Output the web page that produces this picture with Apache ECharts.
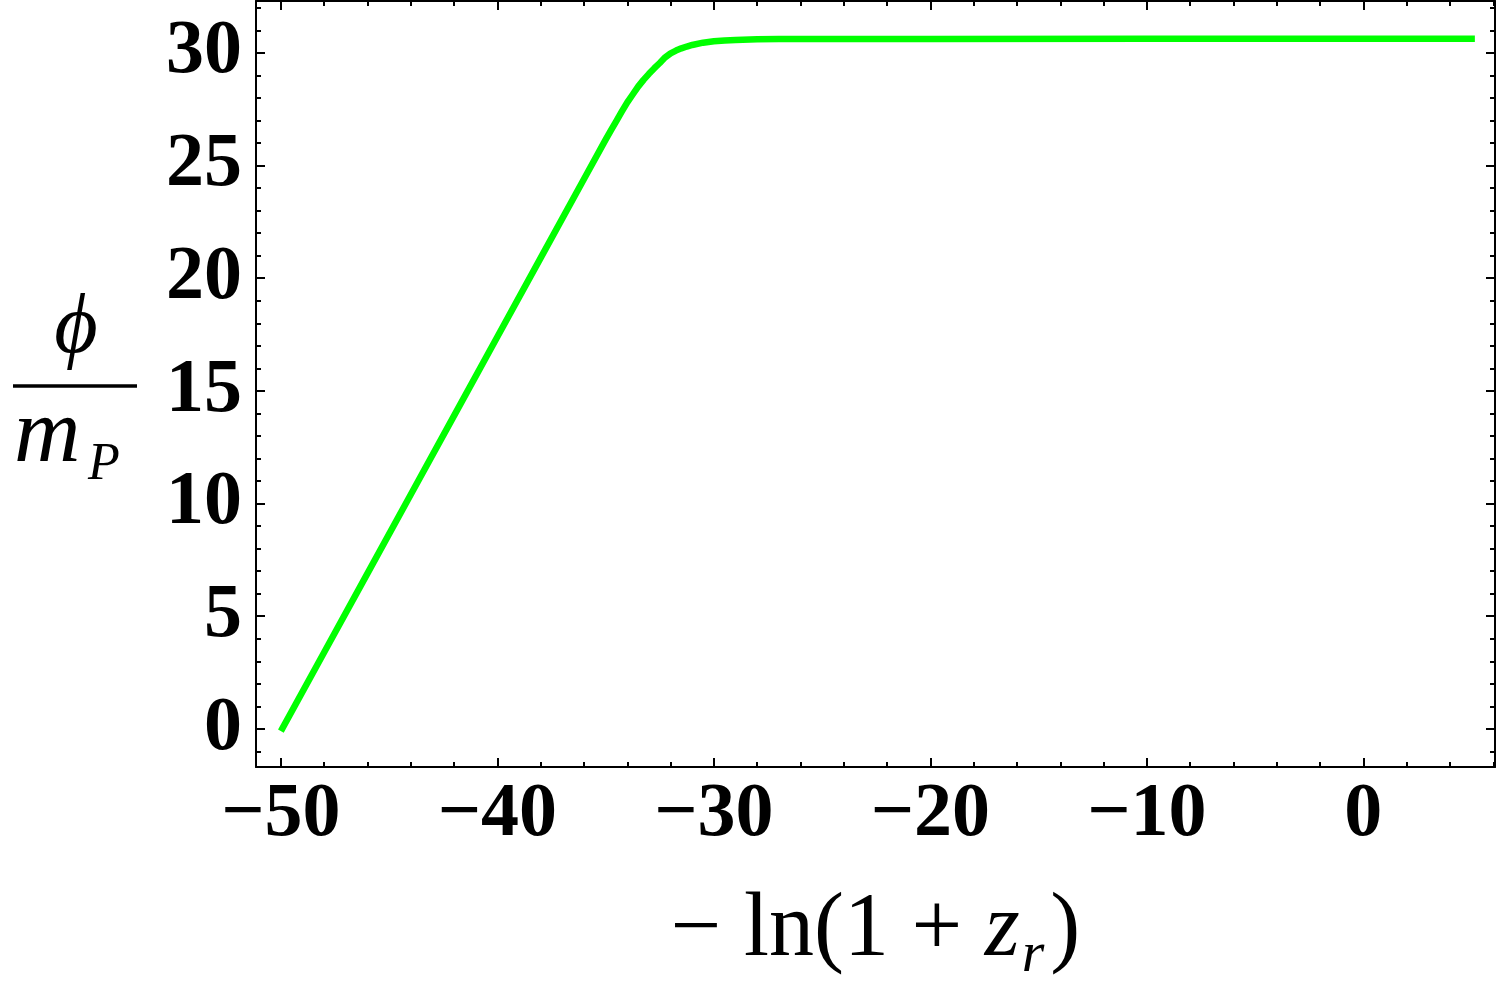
<!DOCTYPE html>
<html><head><meta charset="utf-8">
<script src="https://cdn.jsdelivr.net/npm/echarts@6/dist/echarts.min.js"></script>
<style>html,body{margin:0;padding:0;background:#fff}#c{width:1500px;height:990px}</style>
</head><body><div id="c"></div>
<script>
// data
const xValues   = [-50, -48, -46, -44, -42, -40, -38, -36, -35, -34.75, -34.5, -34.25, -34, -33.75, -33.5, -33.25, -33, -32.75, -32.5, -32.25, -32, -31.75, -31.5, -31.25, -31, -30.5, -30, -29.5, -29, -28, -27, -25, -20, -10, 0, 5.15];
const phiValues = [-0.1, 3.4, 6.9, 10.4, 13.9, 17.4, 20.9, 24.4, 26.15, 26.57, 26.98, 27.4, 27.8, 28.15, 28.5, 28.8, 29.07, 29.32, 29.55, 29.8, 29.98, 30.1, 30.2, 30.28, 30.35, 30.45, 30.51, 30.55, 30.57, 30.6, 30.61, 30.61, 30.61, 30.62, 30.62, 30.62];
const xMajorTicks = [-50, -40, -30, -20, -10, 0];
const xMinorTicks = [-50, -48, -46, -44, -42, -40, -38, -36, -34, -32, -30, -28, -26, -24, -22, -20, -18, -16, -14, -12, -10, -8, -6, -4, -2, 0, 2, 4, 6];
const yMajorTicks = [0, 5, 10, 15, 20, 25, 30];
const yMinorTicks = [-1, 0, 1, 2, 3, 4, 5, 6, 7, 8, 9, 10, 11, 12, 13, 14, 15, 16, 17, 18, 19, 20, 21, 22, 23, 24, 25, 26, 27, 28, 29, 30, 31, 32];
const X_MIN = -51.15, X_MAX = 6.08, Y_MIN = -1.69, Y_MAX = 32.3;

const fmt = v => (v < 0 ? '\u2212' + Math.abs(v) : String(v));
const labelFont = { fontFamily: '"Liberation Serif", "Times New Roman", serif', fontWeight: 'bold', fontSize: 76, color: '#000' };

function xAx(pos, ticks, len, showLine, showLabel) {
  return {
    type: 'value', position: pos, min: X_MIN, max: X_MAX,
    axisLine: { show: showLine, onZero: false, lineStyle: { color: '#000', width: 2 } },
    axisTick: { show: true, inside: true, length: len, customValues: ticks, lineStyle: { color: '#000', width: 2 } },
    axisLabel: showLabel ? Object.assign({ show: true, margin: 10, customValues: ticks, formatter: fmt }, labelFont) : { show: false },
    splitLine: { show: false }
  };
}
function yAx(pos, ticks, len, showLine, showLabel) {
  return {
    type: 'value', position: pos, min: Y_MIN, max: Y_MAX,
    axisLine: { show: showLine, onZero: false, lineStyle: { color: '#000', width: 2 } },
    axisTick: { show: true, inside: true, length: len, customValues: ticks, lineStyle: { color: '#000', width: 2 } },
    axisLabel: showLabel ? Object.assign({ show: true, margin: 14, customValues: ticks, formatter: fmt }, labelFont) : { show: false },
    splitLine: { show: false }
  };
}

const xMain = xAx('bottom', xMajorTicks, 9, true, true);
xMain.name = '{t|\u2212 ln(1 + }{z|z}{r|r}{t|)}';
xMain.nameLocation = 'middle';
xMain.nameGap = 119;
xMain.nameTextStyle = {
  rich: {
    t: { fontFamily: '"Liberation Serif", serif', fontSize: 90, color: '#000', verticalAlign: 'top', padding: [0, 0, 9, 0] },
    z: { fontFamily: '"Liberation Serif", serif', fontStyle: 'italic', fontSize: 90, color: '#000', verticalAlign: 'top', padding: [0, 0, 9, 0] },
    r: { fontFamily: '"Liberation Serif", serif', fontStyle: 'italic', fontSize: 58, color: '#000', verticalAlign: 'bottom', padding: [0, 6, 0, 2] }
  }
};

const chart = echarts.init(document.getElementById('c'), null, { renderer: 'canvas' });
chart.setOption({
  animation: false,
  backgroundColor: '#fff',
  grid: { left: 256, right: 5, top: 1, bottom: 223, containLabel: false },
  xAxis: [
    xMain,
    xAx('bottom', xMinorTicks, 5, false, false),
    xAx('top', xMajorTicks, 9, true, false),
    xAx('top', xMinorTicks, 5, false, false)
  ],
  yAxis: [
    yAx('left', yMajorTicks, 9, true, true),
    yAx('left', yMinorTicks, 5, false, false),
    yAx('right', yMajorTicks, 9, true, false),
    yAx('right', yMinorTicks, 5, false, false)
  ],
  graphic: [
    { type: 'text', x: 76, y: 330, style: { text: '\u03D5', fontFamily: '"Liberation Serif", "DejaVu Serif", serif', fontStyle: 'italic', fontSize: 84, fill: '#000', align: 'center', verticalAlign: 'middle' } },
    { type: 'line', shape: { x1: 13, y1: 386, x2: 137, y2: 386 }, style: { stroke: '#000', lineWidth: 3.5 } },
    { type: 'text', x: 14, y: 437, style: { text: 'm', fontFamily: '"Liberation Serif", serif', fontStyle: 'italic', fontSize: 92, fill: '#000', align: 'left', verticalAlign: 'middle' } },
    { type: 'text', x: 88, y: 465, style: { text: 'P', fontFamily: '"Liberation Serif", serif', fontStyle: 'italic', fontSize: 52, fill: '#000', align: 'left', verticalAlign: 'middle' } }
  ],
  series: [{
    type: 'line',
    xAxisIndex: 0, yAxisIndex: 0,
    data: xValues.map((x, i) => [x, phiValues[i]]),
    showSymbol: false, symbol: 'none',
    smooth: false,
    lineStyle: { color: '#00ff00', width: 6.5, join: 'round' }
  }]
});
</script></body></html>
